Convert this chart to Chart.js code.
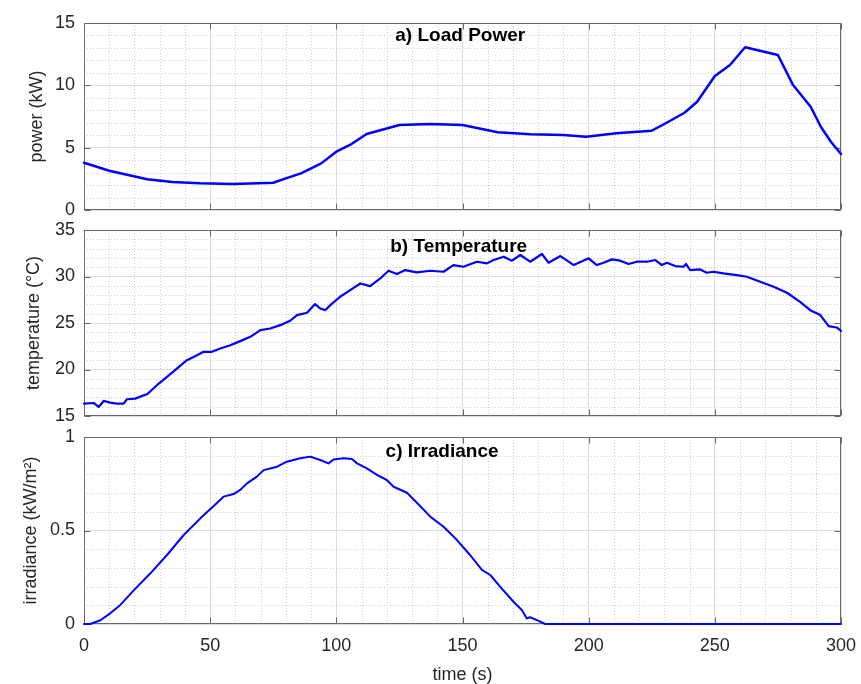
<!DOCTYPE html>
<html>
<head>
<meta charset="utf-8">
<script src="https://cdn.jsdelivr.net/npm/chart.js@4.4.1/dist/chart.umd.min.js"></script>
<style>
  html, body { margin: 0; padding: 0; background: #ffffff; }
  body { width: 861px; height: 684px; position: relative; overflow: hidden; }
  .panel { position: absolute; left: 0; }
  canvas { display: block; }
</style>
</head>
<body>
<div class="panel" style="top:0px"><canvas id="c1" width="861" height="222"></canvas></div>
<div class="panel" style="top:222px"><canvas id="c2" width="861" height="206"></canvas></div>
<div class="panel" style="top:428px"><canvas id="c3" width="861" height="256"></canvas></div>
<script>
// ---------- data ----------
const xTicks = [0, 50, 100, 150, 200, 250, 300];
const powerTicks = [0, 5, 10, 15];
const tempTicks = [15, 20, 25, 30, 35];
const irrTicks = [0, 0.5, 1];

const loadTime  = [0, 10, 25, 35, 46, 59, 75, 80, 86, 94, 100, 106, 112, 125, 137, 150, 164, 177, 190, 199, 211, 225, 230, 238, 243, 250, 256, 262, 275, 281, 288, 292, 296, 300];
const loadPower = [3.79, 3.15, 2.46, 2.25, 2.14, 2.08, 2.19, 2.54, 2.94, 3.74, 4.68, 5.29, 6.09, 6.82, 6.90, 6.82, 6.23, 6.07, 6.01, 5.88, 6.15, 6.36, 6.90, 7.80, 8.68, 10.75, 11.63, 13.05, 12.43, 10.02, 8.28, 6.68, 5.48, 4.49];

const tempTime = [0, 3.8, 5.8, 7.8, 10.4, 13.1, 15.7, 17, 20.3, 23, 25, 28.9, 32.9, 36.8, 40.8, 44.8, 47.4, 50.7, 54, 58, 61.9, 65.9, 69.9, 73.8, 77.8, 81.7, 84.4, 88.4, 91.6, 93.6, 95.6, 97.6, 101.5, 105.5, 109.5, 113.4, 117.4, 120.7, 124, 127.3, 131.9, 137.2, 142.5, 146.4, 150.4, 155.7, 159.7, 162.3, 166.3, 169.6, 172.9, 176.8, 181.5, 184.1, 188.8, 194.1, 200, 203.2, 205.9, 209.2, 212.5, 215.8, 219.1, 223.1, 226.4, 229, 231, 234.3, 237.6, 238.6, 240.2, 244.2, 246.8, 249.4, 253.4, 258.7, 262.7, 268, 273.3, 278.6, 283.8, 287.8, 291.8, 295.1, 298.3, 300];
const temperature = [16.33, 16.4, 15.97, 16.62, 16.44, 16.33, 16.33, 16.8, 16.87, 17.16, 17.34, 18.31, 19.2, 20.1, 21.0, 21.54, 21.9, 21.9, 22.26, 22.61, 23.05, 23.51, 24.23, 24.41, 24.77, 25.24, 25.85, 26.1, 27.03, 26.56, 26.38, 26.92, 27.82, 28.54, 29.25, 28.97, 29.79, 30.62, 30.26, 30.69, 30.44, 30.62, 30.51, 31.23, 31.05, 31.59, 31.41, 31.77, 32.13, 31.7, 32.31, 31.59, 32.42, 31.48, 32.2, 31.23, 31.95, 31.23, 31.48, 31.84, 31.7, 31.34, 31.59, 31.59, 31.77, 31.23, 31.48, 31.12, 31.05, 31.34, 30.69, 30.76, 30.4, 30.51, 30.33, 30.15, 29.97, 29.43, 28.9, 28.25, 27.28, 26.38, 25.85, 24.66, 24.52, 24.16];

const irrTime = [0, 2.5, 6.5, 10.4, 14.4, 19.7, 26.3, 32.9, 39.5, 46.1, 51.4, 55.3, 59.3, 61.9, 64.6, 68.5, 71.2, 76.5, 80.4, 85.7, 89.7, 93.6, 96.9, 98.9, 102.9, 106.2, 108.2, 112.1, 116.1, 120, 122.7, 128, 133.2, 137.2, 142.5, 147.8, 153, 157.7, 161, 164.9, 170.2, 173.5, 175.5, 176.8, 179.5, 182.8, 200, 250, 300];
const irradiance = [0, 0, 0.02, 0.057, 0.102, 0.18, 0.271, 0.369, 0.476, 0.565, 0.631, 0.681, 0.695, 0.717, 0.752, 0.788, 0.823, 0.841, 0.868, 0.886, 0.895, 0.877, 0.859, 0.88, 0.886, 0.882, 0.859, 0.832, 0.797, 0.77, 0.734, 0.702, 0.631, 0.574, 0.52, 0.449, 0.369, 0.289, 0.262, 0.2, 0.119, 0.075, 0.03, 0.036, 0.021, 0, 0, 0, 0];

// ---------- helpers ----------
const FONT = "'Liberation Sans', Arial, Helvetica, sans-serif";
const TICKCOL = '#262626';

function pts(xs, ys) { return xs.map((x, i) => ({ x: x, y: ys[i] })); }

const matlabPlugin = {
  id: 'matlab',
  beforeDatasetsDraw(chart, args, o) {
    const { ctx, chartArea: a, scales: { x, y } } = chart;
    ctx.save();
    // minor dotted grid
    ctx.strokeStyle = o.minorColor;
    ctx.lineWidth = 1;
    ctx.setLineDash([1, 2]);
    ctx.beginPath();
    const isMajor = (v, step) => Math.abs(v / step - Math.round(v / step)) < 1e-6;
    for (let k = 0; ; k++) {
      const v = x.min + k * o.minorX;
      if (v > x.max + 1e-9) break;
      if (isMajor(v, o.majorX)) continue;
      const px = Math.round(x.getPixelForValue(v)) + 0.5;
      ctx.moveTo(px, a.top); ctx.lineTo(px, a.bottom);
    }
    for (let k = 0; ; k++) {
      const v = y.min + k * o.minorY;
      if (v > y.max + 1e-9) break;
      if (isMajor(v, o.majorY)) continue;
      const py = Math.round(y.getPixelForValue(v)) + 0.5;
      ctx.moveTo(a.left, py); ctx.lineTo(a.right, py);
    }
    ctx.stroke();
    // box and inward ticks
    ctx.strokeStyle = o.boxColor;
    ctx.setLineDash([]);
    const L = Math.round(a.left) + 0.5, R = Math.round(a.right) - 0.5;
    const T = Math.round(a.top) + 0.5, B = Math.round(a.bottom) - 0.5;
    ctx.strokeRect(L, T, R - L, B - T);
    ctx.beginPath();
    const tl = 6;
    x.ticks.forEach(t => {
      const px = Math.round(x.getPixelForValue(t.value)) + 0.5;
      ctx.moveTo(px, B); ctx.lineTo(px, B - tl);
      ctx.moveTo(px, T); ctx.lineTo(px, T + tl);
    });
    y.ticks.forEach(t => {
      const py = Math.round(y.getPixelForValue(t.value)) + 0.5;
      ctx.moveTo(L, py); ctx.lineTo(L + tl, py);
      ctx.moveTo(R, py); ctx.lineTo(R - tl, py);
    });
    ctx.stroke();
    ctx.restore();
  },
  afterDatasetsDraw(chart, args, o) {
    const { ctx, chartArea: a } = chart;
    ctx.save();
    ctx.fillStyle = '#000000';
    ctx.font = 'bold 19px ' + FONT;
    ctx.textAlign = 'center';
    ctx.textBaseline = 'middle';
    ctx.fillText(o.title, a.left + o.titleFrac * (a.right - a.left), a.top + o.titleOffset);
    ctx.restore();
  }
};

function makeChart(id, cfg) {
  const showX = cfg.showX;
  return new Chart(document.getElementById(id), {
    type: 'line',
    data: {
      datasets: [{
        data: cfg.data,
        borderColor: '#0000ff',
        borderWidth: cfg.lineWidth,
        pointRadius: 0,
        tension: 0,
        fill: false,
        clip: 4,
        borderJoinStyle: 'round',
        borderCapStyle: 'round'
      }]
    },
    options: {
      responsive: false,
      animation: false,
      devicePixelRatio: 1,
      layout: { padding: cfg.padding, autoPadding: false },
      plugins: {
        legend: { display: false },
        tooltip: { enabled: false },
        title: { display: false },
        matlab: {
          minorColor: '#cdcdcd',
          boxColor: '#6a6a6a',
          minorX: 10, majorX: 50,
          minorY: cfg.minorY, majorY: cfg.majorY,
          title: cfg.title, titleFrac: cfg.titleFrac, titleOffset: cfg.titleOffset
        }
      },
      scales: {
        x: {
          type: 'linear',
          min: 0, max: 300,
          afterBuildTicks: s => { s.ticks = xTicks.map(v => ({ value: v })); },
          afterFit: s => {
            s.height = showX ? 60 : 0;
            s.paddingLeft = 0; s.paddingRight = 0; s.paddingTop = 0; s.paddingBottom = 0;
          },
          grid: { color: '#dedede', lineWidth: 1, drawTicks: false },
          border: { display: false },
          ticks: {
            display: showX,
            padding: 11,
            color: TICKCOL,
            maxRotation: 0,
            callback: v => String(v),
            font: { family: FONT, size: 18 }
          },
          title: {
            display: showX,
            text: 'time (s)',
            color: TICKCOL,
            padding: { top: 0, bottom: 0 },
            font: { family: FONT, size: 18, lineHeight: 1 }
          }
        },
        y: {
          type: 'linear',
          min: cfg.yMin, max: cfg.yMax,
          afterBuildTicks: s => { s.ticks = cfg.yTicks.map(v => ({ value: v })); },
          afterFit: s => {
            s.width = 84;
            s.paddingLeft = 0; s.paddingRight = 0; s.paddingTop = 0; s.paddingBottom = 0;
          },
          grid: { color: '#dedede', lineWidth: 1, drawTicks: false },
          border: { display: false },
          ticks: {
            padding: 9,
            color: TICKCOL,
            callback: v => String(v),
            font: { family: FONT, size: 18 }
          },
          title: {
            display: true,
            text: cfg.yTitle,
            color: TICKCOL,
            padding: { top: cfg.yTitlePad, bottom: 0 },
            font: { family: FONT, size: 18, lineHeight: 1 }
          }
        }
      }
    },
    plugins: [matlabPlugin]
  });
}

makeChart('c1', {
  data: pts(loadTime, loadPower), lineWidth: 2.5,
  padding: { top: 23, right: 20, bottom: 12, left: 0 },
  yMin: 0, yMax: 15, yTicks: powerTicks, minorY: 1, majorY: 5,
  yTitle: 'power (kW)', yTitlePad: 28,
  title: 'a) Load Power', titleFrac: 0.497, titleOffset: 13,
  showX: false
});

makeChart('c2', {
  data: pts(tempTime, temperature), lineWidth: 2.2,
  padding: { top: 8, right: 20, bottom: 12, left: 0 },
  yMin: 15, yMax: 35, yTicks: tempTicks, minorY: 1, majorY: 5,
  yTitle: 'temperature (°C)', yTitlePad: 25,
  title: 'b) Temperature', titleFrac: 0.495, titleOffset: 17,
  showX: false
});

makeChart('c3', {
  data: pts(irrTime, irradiance), lineWidth: 2,
  padding: { top: 9, right: 20, bottom: 0, left: 0 },
  yMin: 0, yMax: 1, yTicks: irrTicks, minorY: 0.1, majorY: 0.5,
  yTitle: 'irradiance (kW/m²)', yTitlePad: 22,
  title: 'c) Irradiance', titleFrac: 0.473, titleOffset: 15,
  showX: true
});
</script>
</body>
</html>
